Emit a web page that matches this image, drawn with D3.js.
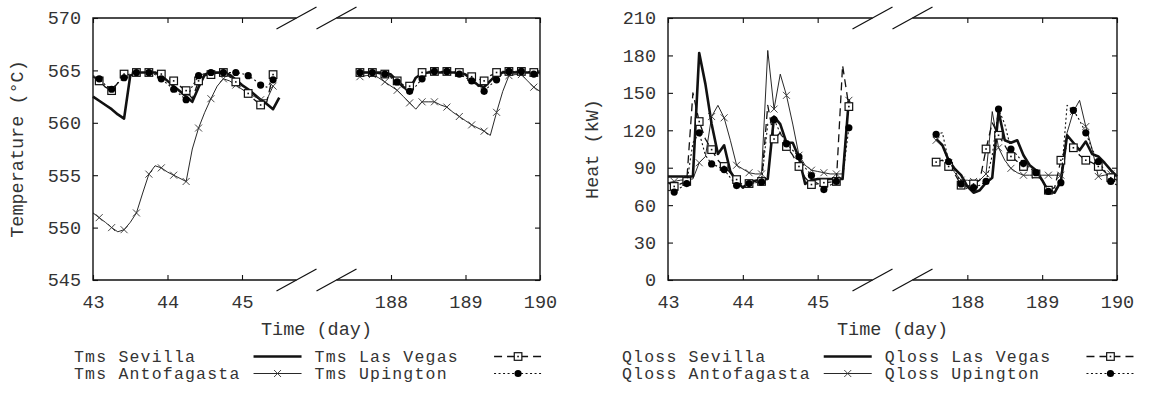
<!DOCTYPE html>
<html>
<head>
<meta charset="utf-8">
<script src="https://cdn.jsdelivr.net/npm/d3@7/dist/d3.min.js"></script>
<style>
  body { margin: 0; background: #fff; }
  svg text { font-family: "Liberation Mono", "DejaVu Sans Mono", monospace; font-size: 18.5px; fill: #333; }
  svg .legend text { font-size: 16.5px; letter-spacing: 1.2px; }
</style>
</head>
<body>
<svg id="chart" width="1160" height="399"></svg>
<script>
// time samples (day of year), every 2 hours
const daysA = [43.000, 43.083, 43.167, 43.250, 43.333, 43.417, 43.500, 43.583, 43.667, 43.750, 43.833,
    43.917, 44.000, 44.083, 44.167, 44.250, 44.333, 44.417, 44.500, 44.583, 44.667, 44.750, 44.833,
    44.917, 45.000, 45.083, 45.167, 45.250, 45.333, 45.417, 45.500];
const daysB = [187.583, 187.667, 187.750, 187.833, 187.917, 188.000, 188.083, 188.167, 188.250, 188.333,
    188.417, 188.500, 188.583, 188.667, 188.750, 188.833, 188.917, 189.000, 189.083, 189.167, 189.250,
    189.333, 189.417, 189.500, 189.583, 189.667, 189.750, 189.833, 189.917, 190.000];

const dayTicksA = [43, 44, 45];
const dayTicksB = [188, 189, 190];
const tempTicks = [545, 550, 555, 560, 565, 570];
const heatTicks = [0, 30, 60, 90, 120, 150, 180, 210];

// molten salt temperature (°C)
const tmsSevA = [562.5, 562.1, 561.7, 561.3, 560.8, 560.4, 564.5, 564.8, 564.8, 564.8, 564.8, 564.5, 564.0, 563.5, 563.0, 562.5,
    562.0, 563.4, 564.6, 564.8, 564.8, 564.8, 564.6, 564.1, 563.6, 563.2, 562.7, 562.2, 561.8, 561.3, 562.4];
const tmsAntA = [551.4, 550.95, 550.5, 550.0, 549.6, 549.8, 550.5, 551.4, 553.3, 555.1, 555.9, 555.7, 555.3, 555.0, 554.7, 554.4,
    557.5, 559.5, 561.0, 562.3, 563.5, 564.2, 564.0, 563.6, 563.2, 562.8, 562.5, 562.2, 562.2, 563.5, null];
const tmsLvA = [564.4, 564.0, 563.4, 563.07, 563.8, 564.65, 564.8, 564.8, 564.8, 564.8, 564.75, 564.65, 564.3, 564.0, 563.5, 563.07,
    562.3, 564.0, 564.5, 564.6, 564.75, 564.8, 564.4, 563.9, 563.3, 562.8, 562.2, 561.7, 562.0, 564.6, null];
const tmsUpA = [564.5, 564.2, 563.6, 563.2, 563.8, 564.3, 564.7, 564.8, 564.8, 564.8, 564.6, 564.2, 563.7, 563.2, 562.7, 562.2,
    563.5, 564.5, 564.7, 564.8, 564.8, 564.8, 564.8, 564.8, 564.7, 564.5, 564.1, 563.6, 563.4, 564.1, null];

const tmsSevB = [564.8, 564.8, 564.8, 564.8, 564.8, 564.6, 564.0, 563.4, 563.2, 564.3, 564.7, 564.8, 564.8, 564.8, 564.8,
    564.8, 564.8, 564.6, 564.1, 563.6, 563.4, 564.0, 564.6, 564.8, 564.8, 564.8, 564.8, 564.8, 564.8, 564.8];
const tmsAntB = [564.4, 564.5, 564.6, 564.3, 563.9, 563.5, 563.1, 562.5, 561.9, 561.3, 562.0, 562.0, 562.0, 561.7, 561.5,
    561.0, 560.6, 560.2, 559.8, 559.5, 559.2, 558.8, 561.0, 563.0, 564.5, 564.6, 564.6, 564.0, 563.4, 563.0];
const tmsLvB = [564.8, 564.8, 564.8, 564.7, 564.65, 564.4, 564.0, 563.6, 563.5, 564.2, 564.8, 564.9, 564.9, 564.9, 564.9,
    564.85, 564.8, 564.6, 564.4, 564.2, 564.0, 564.5, 564.8, 564.9, 564.9, 564.9, 564.9, 564.9, 564.8, 564.8];
const tmsUpB = [564.8, 564.8, 564.8, 564.7, 564.65, 564.3, 563.9, 563.3, 563.0, 563.5, 564.2, 564.8, 564.9, 564.9, 564.9,
    564.8, 564.65, 564.3, 564.0, 563.5, 563.0, 563.6, 564.1, 564.7, 564.9, 564.9, 564.9, 564.8, 564.65, 564.6];

// heat loss (kW)
const qSevA = [83, 83, 83, 83, 83, 182, 157, 125, 101, 108, 87, 79, 74, 78, 79.5, 80.5, 81, 131, 125, 110, 110, 98, 77, 80,
    81, 81, 81, 81, 81, 145, null];
const qAntA = [78, 79, 80, 80.5, 81, 94, 99, 131, 140, 130, 112, 92, 89, 86, 85, 85, 184, 137, 165, 148, 125, 100, 92, 88,
    87, 86, 85, 85, 85, 144, null];
const qLvA = [78, 75, 77, 79, 150, 127, 113, 104.5, 96, 91, 86, 80.5, 76, 77.3, 78, 79, 140, 113, 118, 107, 100, 91, 82, 76.5,
    77, 78, 78.5, 79, 172, 139, null];
const qUpA = [72, 70.5, 74, 77.3, 110, 118, 100, 93, 91, 88.5, 82, 75.7, 75, 77.3, 78, 78.4, 125, 128.5, 118, 109.3, 104, 98.7,
    90, 83.7, 77, 72.5, 76, 79, 82, 122, null];

const qSevB = [113, 108, 96, 89, 84, 75, 70, 72, 78, 82, 135, 112, 110, 112, 100, 92, 88, 80, 71, 70, 79, 116, 110, 104, 111,
    101, 99, 94, 88, 83];
const qAntB = [112, 108, 94, 86, 80, 80, 79, 80, 85, 135, 106, 96, 89.5, 86, 84, 84, 84, 84, 84, 84, 84, 118, 135, 144, 123,
    105, 83, 84, 85, 84];
const qLvB = [94.5, 96, 91, 85, 76, 75, 77, 80, 105, 126, 116, 108, 99, 95, 91, 88, 85, 80, 72, 74, 96, 108, 106, 100, 96, 94,
    91, 87, 82, 80];
const qUpB = [116.7, 118, 95, 88, 77, 73, 74, 76, 79, 100, 137, 125, 105, 100, 93.5, 90, 86, 80, 71, 72, 78, 140, 136, 128, 118,
    105, 95, 88, 79, 76];

const styles = {
    sevilla: { width: 2.6, dash: null, marker: null },
    antofagasta: { width: 0.9, dash: null, marker: 'x' },
    lasvegas: { width: 1.3, dash: '8,5', marker: 'square' },
    upington: { width: 1.1, dash: '2,2.5', marker: 'circle' }
};

const svg = d3.select('#chart');

function drawMarker(g, type, cx, cy) {
    if (type === 'square') {
        g.append('rect').attr('x', cx - 3.8).attr('y', cy - 3.8).attr('width', 7.6).attr('height', 7.6)
            .attr('fill', '#fff').attr('stroke', '#111').attr('stroke-width', 1.2);
        g.append('rect').attr('x', cx - 0.8).attr('y', cy - 0.8).attr('width', 1.6).attr('height', 1.6).attr('fill', '#111');
    } else if (type === 'circle') {
        g.append('circle').attr('cx', cx).attr('cy', cy).attr('r', 3.6).attr('fill', '#000');
    } else if (type === 'x') {
        g.append('path').attr('d', `M${cx - 3.5},${cy - 3.5}L${cx + 3.5},${cy + 3.5}M${cx - 3.5},${cy + 3.5}L${cx + 3.5},${cy - 3.5}`)
            .attr('stroke', '#333').attr('stroke-width', 0.9);
    }
}

function drawPanel(opt) {
    const g = svg.append('g');
    const L = opt.left, R = opt.right, T = 18, B = 280;
    const day = (R - L) / 6;
    const brk = L + 3 * day;

    const xA = d3.scaleLinear().domain([43, 46]).range([L, brk]);
    const xB = d3.scaleLinear().domain([187, 190]).range([brk, R]);
    const y = d3.scaleLinear().domain([opt.yTicks[0], opt.yTicks[opt.yTicks.length - 1]]).range([B, T]);

    const tidy = sel => {
        sel.select('.domain').remove();
        sel.selectAll('.tick line').attr('stroke', '#111').attr('stroke-width', 1.1);
    };

    // axes: ticks pointing inward on all four sides
    [[xA, dayTicksA], [xB, dayTicksB]].forEach(([x, tv]) => {
        g.append('g').attr('transform', `translate(0,${B})`)
            .call(d3.axisBottom(x).tickValues(tv).tickSize(-5).tickPadding(14.5).tickFormat(d3.format('d')))
            .call(tidy);
        g.append('g').attr('transform', `translate(0,${T})`)
            .call(d3.axisTop(x).tickValues(tv).tickSize(-5).tickFormat(''))
            .call(tidy);
    });
    g.append('g').attr('transform', `translate(${L},0)`)
        .call(d3.axisLeft(y).tickValues(opt.yTicks).tickSize(-5).tickPadding(12).tickFormat(d3.format('d')))
        .call(tidy);
    g.append('g').attr('transform', `translate(${R},0)`)
        .call(d3.axisRight(y).tickValues(opt.yTicks).tickSize(-5).tickFormat(''))
        .call(tidy);

    // frame with the broken x axis
    const s1 = brk - 20, s2 = brk + 20;
    const frame = g.append('g').attr('stroke', '#111').attr('stroke-width', 1.4).attr('fill', 'none');
    frame.append('path').attr('d', `M${s1},${T}H${L}V${B}H${s1}M${s2},${T}H${R}V${B}H${s2}`);
    [T, B].forEach(yy => {
        [s1, s2].forEach(cx => {
            frame.append('line').attr('x1', cx - 20).attr('y1', yy + 11).attr('x2', cx + 20).attr('y2', yy - 11)
                .attr('stroke-width', 1.2);
        });
    });

    // series
    opt.series.forEach(s => {
        const st = styles[s.key];
        [[xA, daysA, s.a], [xB, daysB, s.b]].forEach(([x, days, vals]) => {
            const pts = vals.map((v, i) => [days[i], v]);
            const line = d3.line().defined(p => p[1] != null).x(p => x(p[0])).y(p => y(p[1]));
            g.append('path').attr('d', line(pts)).attr('fill', 'none')
                .attr('stroke', '#111').attr('stroke-width', st.width)
                .attr('stroke-dasharray', st.dash).attr('stroke-linejoin', 'round');
            if (st.marker) {
                const mg = g.append('g');
                pts.filter(p => p[1] != null && Math.round(p[0] * 12) % 2 === 1)
                    .forEach(p => drawMarker(mg, st.marker, x(p[0]), y(p[1])));
            }
        });
    });

    // axis titles
    g.append('text').attr('x', (L + R) / 2).attr('y', 335).attr('text-anchor', 'middle').text('Time (day)');
    g.append('text').attr('transform', `translate(${opt.yTitleX},${(T + B) / 2}) rotate(-90)`)
        .attr('text-anchor', 'middle').attr('dy', '0.35em').text(opt.yTitle);

    // legend, two rows by two columns
    const lg = g.append('g').attr('class', 'legend');
    const labels = opt.series.map(s => opt.prefix + ' ' + s.name);
    const probe = lg.append('text').text(labels.reduce((a, b) => (a.length > b.length ? a : b)));
    const w = probe.node().getComputedTextLength();
    probe.remove();
    const sampleLen = 48, gap = 13;
    const col1 = opt.legendX, samp1 = col1 + w + gap, col2 = samp1 + sampleLen + gap, samp2 = col2 + w + gap;
    const slots = [[col1, samp1, 0], [col2, samp2, 0], [col1, samp1, 1], [col2, samp2, 1]];
    const order = ['sevilla', 'lasvegas', 'antofagasta', 'upington'];
    order.forEach((key, j) => {
        const s = opt.series.find(d => d.key === key);
        const st = styles[key];
        const [tx, sx, row] = slots[j];
        const by = opt.legendY + row * 17;
        lg.append('text').attr('x', tx).attr('y', by).text(opt.prefix + ' ' + s.name);
        const cy = by - 5.5;
        lg.append('line').attr('x1', sx).attr('x2', sx + sampleLen).attr('y1', cy).attr('y2', cy)
            .attr('stroke', '#111').attr('stroke-width', st.width).attr('stroke-dasharray', st.dash);
        if (st.marker) drawMarker(lg, st.marker, sx + sampleLen / 2, cy);
    });
}

drawPanel({
    left: 93, right: 540, yTicks: tempTicks, yTitle: 'Temperature (°C)', yTitleX: 17,
    prefix: 'Tms', legendX: 74, legendY: 362,
    series: [
        { key: 'sevilla', name: 'Sevilla', a: tmsSevA, b: tmsSevB },
        { key: 'antofagasta', name: 'Antofagasta', a: tmsAntA, b: tmsAntB },
        { key: 'lasvegas', name: 'Las Vegas', a: tmsLvA, b: tmsLvB },
        { key: 'upington', name: 'Upington', a: tmsUpA, b: tmsUpB }
    ]
});

drawPanel({
    left: 668, right: 1117, yTicks: heatTicks, yTitle: 'Heat (kW)', yTitleX: 592,
    prefix: 'Qloss', legendX: 622, legendY: 362,
    series: [
        { key: 'sevilla', name: 'Sevilla', a: qSevA, b: qSevB },
        { key: 'antofagasta', name: 'Antofagasta', a: qAntA, b: qAntB },
        { key: 'lasvegas', name: 'Las Vegas', a: qLvA, b: qLvB },
        { key: 'upington', name: 'Upington', a: qUpA, b: qUpB }
    ]
});
</script>
</body>
</html>
